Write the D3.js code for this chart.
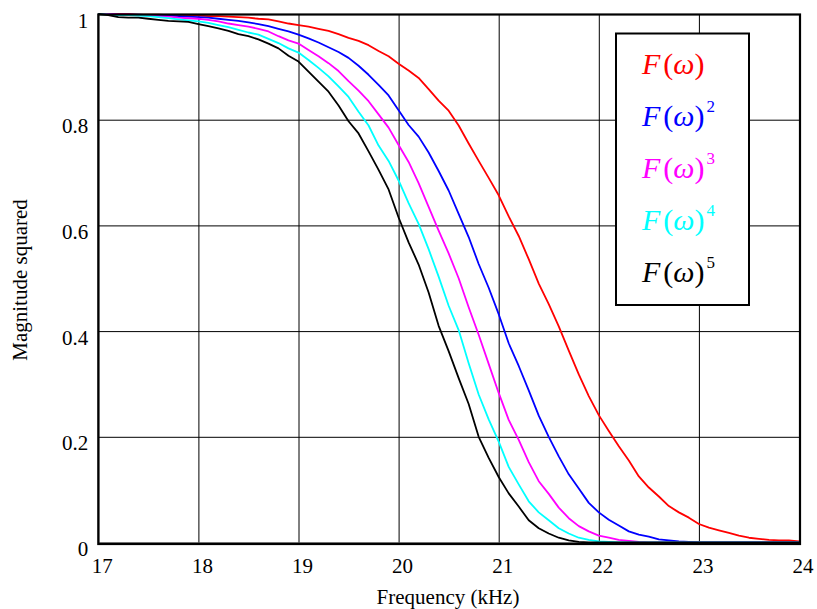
<!DOCTYPE html>
<html>
<head>
<meta charset="utf-8">
<script src="https://cdn.jsdelivr.net/npm/d3@7"></script>
<style>
  html, body { margin: 0; padding: 0; background: #fff; }
  svg { display: block; }
  text { font-family: "Liberation Serif", "Tinos", "Times New Roman", Times, "DejaVu Serif", "Noto Serif", serif; }
</style>
</head>
<body>
<svg id="chart" width="817" height="609"></svg>
<script>
// ---- data ----
const freq = [17.0,17.1,17.2,17.3,17.4,17.5,17.6,17.7,17.8,17.9,
              18.0,18.1,18.2,18.3,18.4,18.5,18.6,18.7,18.8,18.9,
              19.0,19.1,19.2,19.3,19.4,19.5,19.6,19.7,19.8,19.9,
              20.0,20.1,20.2,20.3,20.4,20.5,20.6,20.7,20.8,20.9,
              21.0,21.1,21.2,21.3,21.4,21.5,21.6,21.7,21.8,21.9,
              22.0,22.1,22.2,22.3,22.4,22.5,22.6,22.7,22.8,22.9,
              23.0,23.1,23.2,23.3,23.4,23.5,23.6,23.7,23.8,23.9,24.0];

const F1 = [1.000,1.000,1.000,1.000,0.999,0.999,0.999,0.998,0.998,0.997,
            0.997,0.996,0.996,0.995,0.994,0.993,0.991,0.990,0.986,0.982,
            0.979,0.976,0.972,0.968,0.962,0.955,0.949,0.941,0.930,0.920,
            0.906,0.893,0.879,0.858,0.836,0.817,0.789,0.755,0.722,0.690,
            0.657,0.617,0.580,0.536,0.490,0.451,0.409,0.363,0.318,0.277,
            0.241,0.211,0.182,0.155,0.125,0.104,0.087,0.069,0.057,0.047,
            0.035,0.028,0.023,0.018,0.013,0.009,0.007,0.005,0.004,0.004,0.002];

const F2 = [1.000,1.000,0.999,0.999,0.999,0.998,0.998,0.997,0.996,0.995,
            0.994,0.993,0.991,0.989,0.987,0.984,0.981,0.977,0.972,0.967,
            0.961,0.954,0.946,0.937,0.928,0.917,0.902,0.885,0.866,0.846,
            0.818,0.790,0.768,0.738,0.703,0.666,0.622,0.578,0.527,0.482,
            0.432,0.377,0.334,0.288,0.240,0.200,0.163,0.129,0.102,0.075,
            0.057,0.043,0.032,0.021,0.015,0.011,0.006,0.004,0.002,0.001,
            0.000,0.000,0.000,0.000,0.000,0.000,0.000,0.000,0.000,0.000,0.000];

const F3 = [1.000,1.000,0.999,0.999,0.998,0.997,0.996,0.995,0.993,0.992,
            0.991,0.989,0.986,0.982,0.979,0.976,0.972,0.967,0.958,0.950,
            0.944,0.932,0.920,0.907,0.892,0.873,0.855,0.835,0.810,0.785,
            0.752,0.720,0.680,0.635,0.590,0.547,0.500,0.445,0.393,0.338,
            0.283,0.232,0.194,0.152,0.116,0.092,0.066,0.046,0.031,0.021,
            0.013,0.009,0.005,0.003,0.001,0.000,0.000,0.000,0.000,0.000,
            0.000,0.000,0.000,0.000,0.000,0.000,0.000,0.000,0.000,0.000,0.000];

const F4 = [1.000,0.999,0.998,0.998,0.997,0.996,0.994,0.992,0.990,0.988,
            0.986,0.983,0.979,0.975,0.970,0.965,0.961,0.953,0.945,0.935,
            0.927,0.913,0.898,0.882,0.863,0.843,0.815,0.789,0.751,0.722,
            0.685,0.642,0.603,0.555,0.503,0.448,0.402,0.339,0.280,0.233,
            0.191,0.143,0.110,0.078,0.057,0.042,0.027,0.017,0.009,0.005,
            0.002,0.001,0.000,0.000,0.000,0.000,0.000,0.000,0.000,0.000,
            0.000,0.000,0.000,0.000,0.000,0.000,0.000,0.000,0.000,0.000,0.000];

const F5 = [1.000,0.998,0.994,0.993,0.993,0.991,0.989,0.987,0.986,0.985,
            0.981,0.977,0.973,0.968,0.962,0.958,0.952,0.944,0.935,0.921,
            0.910,0.891,0.872,0.853,0.827,0.797,0.774,0.740,0.705,0.668,
            0.615,0.568,0.526,0.473,0.410,0.362,0.311,0.262,0.200,0.160,
            0.124,0.093,0.068,0.042,0.027,0.017,0.009,0.004,0.001,0.000,
            0.000,0.000,0.000,0.000,0.000,0.000,0.000,0.000,0.000,0.000,
            0.000,0.000,0.000,0.000,0.000,0.000,0.000,0.000,0.000,0.000,0.000];

const seriesNames = ["F1","F2","F3","F4","F5"];
const seriesValues = [F1, F2, F3, F4, F5];
const seriesPowers = ["", "2", "3", "4", "5"];
const seriesColors = ["#ff0000", "#0000ff", "#ff00ff", "#00ffff", "#000000"];

const xTicks = [17,18,19,20,21,22,23,24];
const yTicks = [0,0.2,0.4,0.6,0.8,1];
const yTickLabels = ["0","0.2","0.4","0.6","0.8","1"];

// ---- layout ----
const FONT = '"Liberation Serif", "Tinos", "Times New Roman", Times, "DejaVu Serif", "Noto Serif", serif';
const svg = d3.select("#chart");
const L = 98.3, R = 799, T = 14, B = 542.5;

const x = d3.scaleLinear().domain([17, 24]).range([L, R]);
const y = d3.scaleLinear().domain([0, 1]).range([B, T]);

// grid via axes
const gx = svg.append("g")
  .attr("transform", `translate(0,${B})`)
  .call(d3.axisBottom(x).tickValues(xTicks).tickSize(-(B - T)).tickFormat(d3.format("d")));
gx.attr("font-family", null).attr("font-size", null);
gx.select(".domain").remove();
gx.selectAll(".tick line").attr("stroke", "#000").attr("stroke-width", 1);
gx.selectAll(".tick text")
  .attr("y", 30.5).attr("dy", 0).attr("dx", 3.5)
  .attr("font-size", 21).attr("fill", "#000")
  .style("font-family", FONT);

const gy = svg.append("g")
  .attr("transform", `translate(${L},0)`)
  .call(d3.axisLeft(y).tickValues(yTicks).tickSize(-(R - L)).tickFormat((d, i) => yTickLabels[i]));
gy.attr("font-family", null).attr("font-size", null);
gy.select(".domain").remove();
gy.selectAll(".tick line").attr("stroke", "#000").attr("stroke-width", 1);
gy.selectAll(".tick text")
  .attr("x", -10).attr("dy", 0).attr("y", 13)
  .attr("font-size", 21).attr("fill", "#000")
  .style("font-family", FONT);

// curves
const line = d3.line().x((d, i) => x(freq[i])).y(d => y(d));
svg.append("g").selectAll("path")
  .data(seriesValues)
  .join("path")
  .attr("d", d => line(d))
  .attr("fill", "none")
  .attr("stroke", (d, i) => seriesColors[i])
  .attr("stroke-width", 1.8)
  .attr("stroke-linejoin", "round");

// frame
svg.append("rect")
  .attr("x", L).attr("y", T + 0.5)
  .attr("width", R - L + 1).attr("height", B - T + 1)
  .attr("fill", "none").attr("stroke", "#000").attr("stroke-width", 2.2);

// legend
const lg = svg.append("g");
lg.append("rect")
  .attr("x", 616).attr("y", 33.5).attr("width", 133).attr("height", 271.5)
  .attr("fill", "#fff").attr("stroke", "#000").attr("stroke-width", 2);

seriesNames.forEach((name, i) => {
  const t = lg.append("text")
    .attr("x", 642).attr("y", 74 + i * 52)
    .attr("font-size", 30).attr("fill", seriesColors[i])
    .style("font-family", FONT);
  t.append("tspan").attr("font-style", "italic").text("F");
  t.append("tspan").attr("dx", 3).text("(");
  t.append("tspan").attr("font-style", "italic").text("ω");
  t.append("tspan").text(")");
  if (seriesPowers[i]) {
    t.append("tspan").attr("font-size", 17).attr("dx", 2).attr("dy", -14).text(seriesPowers[i]);
  }
});

// axis titles
svg.append("text")
  .attr("x", 448).attr("y", 604)
  .attr("text-anchor", "middle").attr("font-size", 21).attr("fill", "#000")
  .style("font-family", FONT)
  .text("Frequency (kHz)");

svg.append("text")
  .attr("transform", "translate(27,280) rotate(-90)")
  .attr("text-anchor", "middle").attr("font-size", 21).attr("fill", "#000")
  .style("font-family", FONT)
  .text("Magnitude squared");
</script>
</body>
</html>
